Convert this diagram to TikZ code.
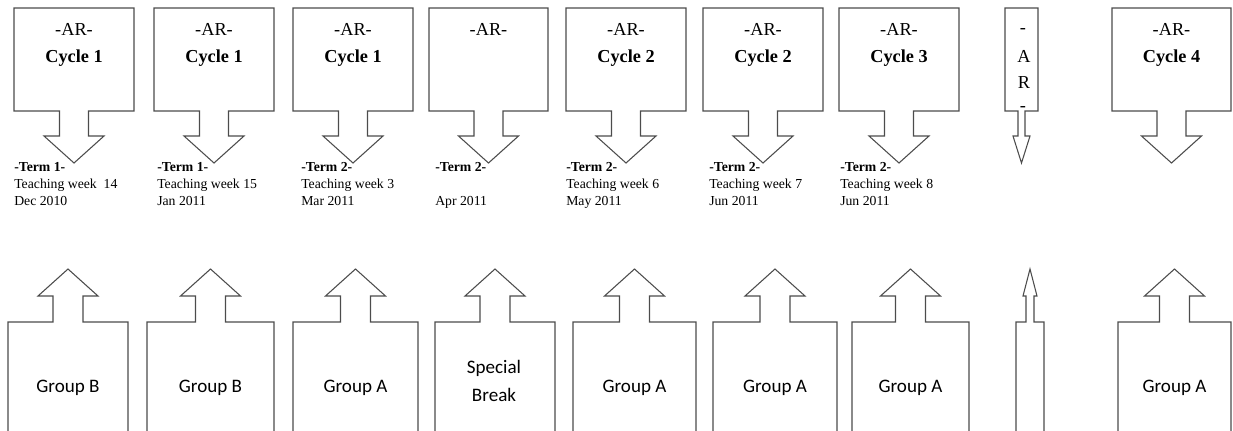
\documentclass[tikz,border=0pt]{standalone}
\usepackage{fontspec}
\setmainfont{Liberation Serif}
\newfontfamily\grpfont{Carlito}

\begin{document}
\begin{tikzpicture}[x=0.75pt, y=-0.75pt]
	\tikzset{ln/.style={draw=black!70, line width=0.8pt},
		ar/.style={anchor=base, inner sep=0pt, font=\fontsize{13.7}{16}\selectfont},
		cyc/.style={ar, font=\fontsize{13.7}{16}\selectfont\bfseries},
		info/.style={anchor=north west, inner sep=0pt, align=left, font=\fontsize{10.3}{12.75}\selectfont},
		grp/.style={anchor=base, inner sep=0pt, font=\grpfont\fontsize{14.3}{17}\selectfont},
		pics/downbox/.style n args={3}{code={
			\draw[ln] (-#1,8) -- (#1,8) -- (#1,111) -- (#2,111) -- (#2,136) -- (#3,136) -- (0,163)
				-- (-#3,136) -- (-#2,136) -- (-#2,111) -- (-#1,111) -- cycle;}},
		pics/upbox/.style n args={3}{code={
			\draw[ln] (-#1,436) -- (-#1,322) -- (-#2,322) -- (-#2,296) -- (-#3,296) -- (0,269)
				-- (#3,296) -- (#2,296) -- (#2,322) -- (#1,322) -- (#1,436);}}};

	\useasboundingbox (0,0) rectangle (1233,430);

	% AR boxes, top row
	\pic at (74,0) {downbox={60}{14.5}{30}};
	\pic at (214,0) {downbox={60}{14.5}{30}};
	\pic at (353,0) {downbox={60}{14.5}{30}};
	\pic at (488.5,0) {downbox={59.5}{14.5}{30}};
	\pic at (626,0) {downbox={60}{14.5}{30}};
	\pic at (763,0) {downbox={60}{14.5}{30}};
	\pic at (899,0) {downbox={60}{14.5}{30}};
	\pic at (1021.5,0) {downbox={16.5}{3.5}{8.5}};
	\pic at (1171.5,0) {downbox={59.5}{14.5}{30}};

	\node[ar] (ar1) at (74,35) {-AR-};
	\node[cyc] (cy1) at (74,62.5) {Cycle 1};
	\node[ar] (ar2) at (214,35) {-AR-};
	\node[cyc] (cy2) at (214,62.5) {Cycle 1};
	\node[ar] (ar3) at (353,35) {-AR-};
	\node[cyc] (cy3) at (353,62.5) {Cycle 1};
	\node[ar] (ar4) at (488.5,35) {-AR-};
	\node[ar] (ar5) at (626,35) {-AR-};
	\node[cyc] (cy5) at (626,62.5) {Cycle 2};
	\node[ar] (ar6) at (763,35) {-AR-};
	\node[cyc] (cy6) at (763,62.5) {Cycle 2};
	\node[ar] (ar7) at (899,35) {-AR-};
	\node[cyc] (cy7) at (899,62.5) {Cycle 3};
	\node[ar] (ar8a) at (1023,33.5) {-};
	\node[ar] (ar8b) at (1024,62.5) {A};
	\node[ar] (ar8c) at (1024,88.5) {R};
	\node[ar] (ar8d) at (1023,111) {-};
	\node[ar] (ar9) at (1171.5,35) {-AR-};
	\node[cyc] (cy9) at (1171.5,62.5) {Cycle 4};

	% dates under the arrows
	\node[info] (d1) at (14,162.5) {\textbf{-Term 1-}\\Teaching week~ 14\\Dec 2010};
	\node[info] (d2) at (157,162.5) {\textbf{-Term 1-}\\Teaching week 15\\Jan 2011};
	\node[info] (d3) at (301,162.5) {\textbf{-Term 2-}\\Teaching week 3\\Mar 2011};
	\node[info] (d4) at (435,162.5) {\textbf{-Term 2-}\\ \\Apr 2011};
	\node[info] (d5) at (566,162.5) {\textbf{-Term 2-}\\Teaching week 6\\May 2011};
	\node[info] (d6) at (709,162.5) {\textbf{-Term 2-}\\Teaching week 7\\Jun 2011};
	\begin{scope}
		\clip (830,150) rectangle (944,215);
		\node[info] (d7) at (840,162.5) {\textbf{-Term 2-}\\Teaching week 8\\Jun 2011};
	\end{scope}

	% groups, bottom row
	\pic at (68,0) {upbox={60}{15}{30}};
	\pic at (210.5,0) {upbox={63.5}{15}{30}};
	\pic at (355.5,0) {upbox={62.5}{15}{30}};
	\pic at (495,0) {upbox={60}{15}{30}};
	\pic at (634.5,0) {upbox={61.5}{15}{30}};
	\pic at (775,0) {upbox={62}{15}{30}};
	\pic at (910.5,0) {upbox={58.5}{15}{30}};
	\pic at (1030,0) {upbox={14}{4}{7}};
	\pic at (1174.5,0) {upbox={56.5}{15}{30}};

	\node[grp] (g1) at (68,392) {Group B};
	\node[grp] (g2) at (210.5,392) {Group B};
	\node[grp] (g3) at (355.5,392) {Group A};
	\node[grp] (g4a) at (494,373) {Special};
	\node[grp] (g4b) at (494,401.5) {Break};
	\node[grp] (g5) at (634.5,392) {Group A};
	\node[grp] (g6) at (775,392) {Group A};
	\node[grp] (g7) at (910.5,392) {Group A};
	\node[grp] (g9) at (1174.5,392) {Group A};
\end{tikzpicture}
\end{document}
